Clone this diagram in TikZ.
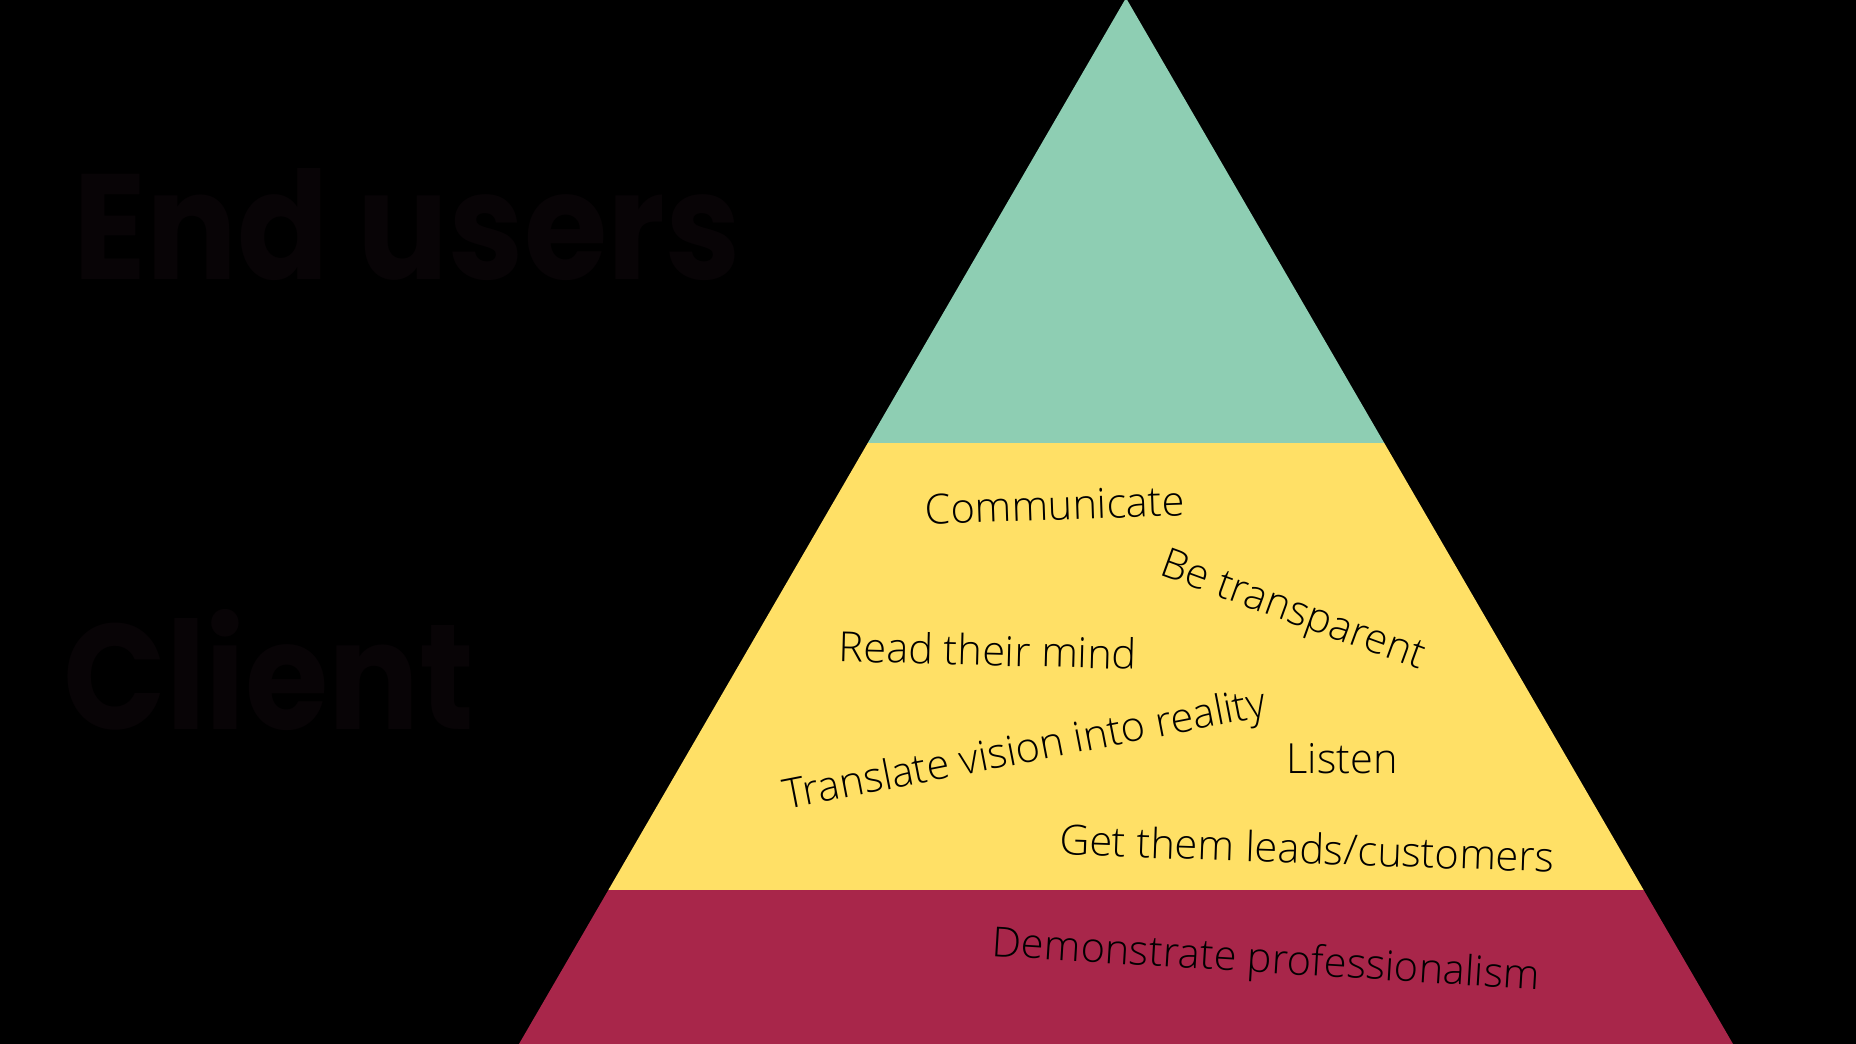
\documentclass[tikz,border=0pt]{standalone}
\usepackage{fontspec}
\setmainfont{Open Sans}
\newfontfamily\tipfont{Open Sans Light}
\newfontfamily\headfont{Poppins}
\definecolor{topgreen}{RGB}{142,206,179}
\definecolor{midyellow}{RGB}{255,224,102}
\definecolor{basered}{RGB}{168,38,74}
\definecolor{headink}{RGB}{8,4,6}

\begin{document}
\begin{tikzpicture}[x=1pt, y=1pt,
  tip/.style={font=\tipfont\fontsize{41.5}{48}\selectfont, text=black, inner sep=0pt},
  tier/.style={font=\headfont\bfseries\fontsize{150}{150}\selectfont, text=headink, inner sep=0pt, xscale=0.9}
]
  % page and background
  \fill[black] (0,0) rectangle (1856,1044);
  \useasboundingbox (0,0) rectangle (1856,1044);

  % pyramid bands
  \begin{scope}
    \clip (519,0) -- (1126,1046) -- (1733,0) -- cycle;
    \fill[basered]   (0,0)   rectangle (1856,154);
    \fill[midyellow] (0,154) rectangle (1856,601);
    \fill[topgreen]  (0,601) rectangle (1856,1046);
  \end{scope}

  % tier names
  \node[tier] (endusers) at (407,819) {End users};
  \node[tier] (client)   at (269,374) {Client};

  % client needs
  \node[tip, rotate=2]    (comm)   at (1055,539) {Communicate};
  \node[tip, rotate=-20]  (transp) at (1292,431) {Be transparent};
  \node[tip, rotate=-1.5] (mind)   at (988,394)  {Read their mind};
  \node[tip, rotate=11]   (vision) at (1025,292) {Translate vision into reality};
  \node[tip]              (listen) at (1342,285) {Listen};
  \node[tip, rotate=-2]   (leads)  at (1307,196) {Get them leads/customers};
  \node[tip, rotate=-3.5] (prof)   at (1266,82)  {Demonstrate professionalism};
\end{tikzpicture}
\end{document}
